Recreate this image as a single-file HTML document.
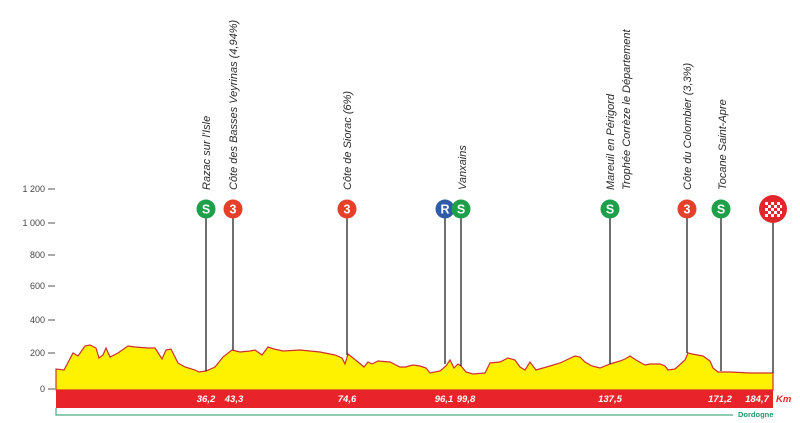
<!DOCTYPE html>
<html><head><meta charset="utf-8"><style>
html,body{margin:0;padding:0;background:#fff;}
svg{display:block;}
.t{font-family:"Liberation Sans",sans-serif;font-style:italic;font-size:11px;fill:#2a2a2a;}
.y{font-family:"Liberation Sans",sans-serif;font-size:9px;fill:#444;}
.k{font-family:"Liberation Sans",sans-serif;font-style:italic;font-weight:bold;font-size:9.5px;fill:#fff;text-anchor:middle;}
.c{font-family:"Liberation Sans",sans-serif;font-weight:bold;font-size:12.5px;fill:#fff;text-anchor:middle;}
</style></head><body>
<svg width="800" height="423" viewBox="0 0 800 423" xmlns="http://www.w3.org/2000/svg">
<g stroke="#555" stroke-width="1">
<line x1="48" y1="189" x2="55" y2="189"/><line x1="48" y1="223" x2="55" y2="223"/>
<line x1="48" y1="255" x2="55" y2="255"/><line x1="48" y1="286" x2="55" y2="286"/>
<line x1="48" y1="320" x2="55" y2="320"/><line x1="48" y1="353" x2="55" y2="353"/>
<line x1="48" y1="389" x2="55" y2="389"/>
</g>
<g class="y" text-anchor="end">
<text x="45" y="192">1 200</text><text x="45" y="226">1 000</text><text x="45" y="258">800</text>
<text x="45" y="289">600</text><text x="45" y="323">400</text><text x="45" y="356">200</text><text x="45" y="392">0</text>
</g>
<polygon fill="#fff200" stroke="#d0302a" stroke-width="1.2" points="56,390 56,369 64,370 73,353 78,356 85,346 90,345 96,348 99,358 103,355 106,348 110,357 118,353 128,346 135,347 148,348 155,348 162,359 166,350 171,349 174,355 178,363 185,367 195,370 199,372 206,371 215,367 223,357 232,350 240,352 250,351 255,350 262,355 268,347 274,349 283,351 300,350 320,352 335,355 342,358 345,364 348,354 358,362 364,367 368,362 372,364 378,361 390,362 400,367 406,367 409,366 413,365 420,366 426,368 430,373 440,371 446,366 450,360 454,368 458,364 461,366 466,372 473,374 485,373 490,363 500,362 508,358 515,360 520,367 525,370 530,362 536,370 550,366 560,363 575,356 580,357 585,362 592,366 600,368 610,364 620,361 625,359 630,356 636,360 645,365 650,364 660,364 665,366 668,370 675,369 685,360 688,353 692,354 703,356 710,361 713,368 718,372 730,372 750,373 773,373 773,390"/>
<rect x="56" y="390" width="717" height="18" fill="#e8232a"/>
<polyline points="56,408 56,415 733,415" fill="none" stroke="#1f9a6a" stroke-width="1"/>
<text x="738" y="417" font-family="Liberation Sans,sans-serif" font-size="7.5" font-weight="bold" fill="#1f9a6a">Dordogne</text>
<g class="k">
<text x="206" y="402">36,2</text><text x="234" y="402">43,3</text><text x="347" y="402">74,6</text>
<text x="444" y="402">96,1</text><text x="466" y="402">99,8</text><text x="610" y="402">137,5</text>
<text x="720" y="402">171,2</text><text x="757" y="402">184,7</text>
</g>
<text x="776" y="402" font-family="Liberation Sans,sans-serif" font-style="italic" font-weight="bold" font-size="9.5" fill="#e8232a">Km</text>
<g stroke="#222" stroke-width="1.3">
<line x1="206" y1="209" x2="206" y2="371"/><line x1="233" y1="209" x2="233" y2="350"/>
<line x1="347" y1="209" x2="347" y2="355"/><line x1="445" y1="209" x2="445" y2="364"/>
<line x1="461" y1="209" x2="461" y2="366"/><line x1="610" y1="209" x2="610" y2="364"/>
<line x1="687" y1="209" x2="687" y2="353"/><line x1="721" y1="209" x2="721" y2="371"/>
<line x1="773" y1="209" x2="773" y2="373"/>
</g>
<g>
<circle cx="206" cy="209" r="9.5" fill="#1ea04a"/><text class="c" x="206" y="213.5">S</text>
<circle cx="233" cy="209" r="9.5" fill="#e5402a"/><text class="c" x="233" y="213.5">3</text>
<circle cx="347" cy="209" r="9.5" fill="#e5402a"/><text class="c" x="347" y="213.5">3</text>
<circle cx="445" cy="209" r="9.5" fill="#2f5ba8"/><text class="c" x="445" y="213.5">R</text>
<circle cx="461" cy="209" r="9.5" fill="#1ea04a"/><text class="c" x="461" y="213.5">S</text>
<circle cx="610" cy="209" r="9.5" fill="#1ea04a"/><text class="c" x="610" y="213.5">S</text>
<circle cx="687" cy="209" r="9.5" fill="#e5402a"/><text class="c" x="687" y="213.5">3</text>
<circle cx="721" cy="209" r="9.5" fill="#1ea04a"/><text class="c" x="721" y="213.5">S</text>
<circle cx="773" cy="209" r="14" fill="#e3262b"/>
<g fill="#fff">
<rect x="765" y="202" width="3" height="3"/><rect x="771" y="202" width="3" height="3"/><rect x="777" y="202" width="3" height="3"/>
<rect x="768" y="205" width="3" height="3"/><rect x="774" y="205" width="3" height="3"/><rect x="780" y="205" width="2" height="3"/>
<rect x="765" y="208" width="3" height="3"/><rect x="771" y="208" width="3" height="3"/><rect x="777" y="208" width="3" height="3"/>
<rect x="768" y="211" width="3" height="3"/><rect x="774" y="211" width="3" height="3"/><rect x="780" y="211" width="2" height="3"/>
<rect x="765" y="214" width="3" height="3"/><rect x="771" y="214" width="3" height="3"/><rect x="777" y="214" width="3" height="3"/>
</g>
</g>
<g class="t">
<text transform="translate(210,190) rotate(-90)">Razac sur l'Isle</text>
<text transform="translate(237,190) rotate(-90)">Côte des Basses Veyrinas (4,94%)</text>
<text transform="translate(351,190) rotate(-90)">Côte de Siorac (6%)</text>
<text transform="translate(466,190) rotate(-90)">Vanxains</text>
<text transform="translate(614,190) rotate(-90)">Mareuil en Périgord</text>
<text transform="translate(630,190) rotate(-90)">Trophée Corrèze le Département</text>
<text transform="translate(691,190) rotate(-90)">Côte du Colombier (3,3%)</text>
<text transform="translate(726,190) rotate(-90)">Tocane Saint-Apre</text>
</g>
</svg>
</body></html>
